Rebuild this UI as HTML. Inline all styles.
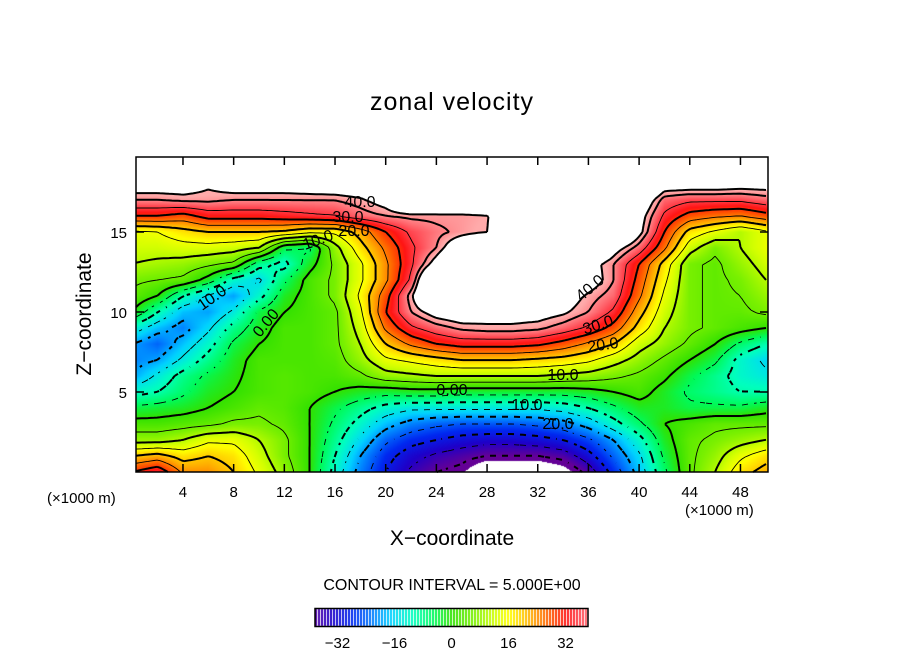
<!DOCTYPE html>
<html><head><meta charset="utf-8"><style>
body{margin:0;background:#fff;width:904px;height:654px;overflow:hidden;position:relative;font-family:"Liberation Sans",sans-serif;}
.t{position:absolute;white-space:nowrap;color:#000;}
</style></head><body>
<div class="t" style="left:0;width:904px;text-align:center;top:88px;font-size:25px;letter-spacing:1px;">zonal velocity</div>
<canvas id="cv" width="904" height="654" style="position:absolute;left:0;top:0"></canvas>
<svg id="sv" width="904" height="654" style="position:absolute;left:0;top:0" font-family="Liberation Sans, sans-serif"></svg>
<div class="t" style="left:0;width:904px;text-align:center;top:527px;font-size:21px;">X−coordinate</div>
<div class="t" style="left:-15px;top:302px;font-size:21px;transform:rotate(-90deg);transform-origin:center;width:200px;text-align:center;">Z−coordinate</div>
<div class="t" style="left:47px;top:490px;font-size:15px;">(×1000 m)</div>
<div class="t" style="left:685px;top:502px;font-size:15px;">(×1000 m)</div>
<div class="t" style="left:0;width:904px;text-align:center;top:577px;font-size:16px;">CONTOUR INTERVAL = 5.000E+00</div>
<script>
const xs=[0,2,4,6,8,10,12,14,16,18,20,22,24,26,28,30,32,34,36,38,40,42,44,46,48,50];
const zs=[20,19,18,17,16,15,14,13,12,11,10,9,8,7,6,5,4,3,2,1,0];
const B=60,L=-50;
const z20=[B,B,B,B,B,B,B,B,B,B,B,B,B,B,B,B,B,B,B,B,B,B,B,B,B,B];
const z19=[B,B,B,B,B,B,B,B,B,B,B,B,B,B,B,B,B,B,B,B,B,B,B,B,B,B];
const z18=[47,47,47,44,47,47,47,48,49,50,B,B,B,B,B,B,B,B,B,B,B,47,47,47,46,46];
const z17=[40,40,41,41,40,40,40,40,40,42,46,B,B,B,B,B,B,B,B,B,50,38,36,36,36,38];
const z16=[30,30,28,32,32,32,33,34,35,38,40,41,41,41,42,B,B,B,B,B,46,34,28,26,25,28];
const z15=[14,15,18,20,20,20,19,16,16,22,30,36,39,41,43,B,B,B,B,B,45,30,18,14,10,14];
const z14=[12,12,13,13,12,10,-4,-6,8,18,26,34,40,50,B,B,B,B,B,46,38,26,12,6,10,14];
const z13=[10,9,8,6,4,-8,-12,-2,6,14,24,34,46,B,B,B,B,B,46,40,30,18,6,4,8,12];
const z12=[6,5,4,-2,-12,-16,-6,2,6,14,24,36,B,B,B,B,B,B,47,40,28,16,6,4,6,10];
const z11=[4,0,-10,-16,-20,-12,-2,2,6,16,28,42,B,B,B,B,B,47,42,38,26,14,6,4,5,8];
const z10=[0,-10,-18,-20,-14,-4,0,2,4,14,30,40,46,48,46,46,46,44,40,34,22,12,6,4,4,6];
const z9=[-12,-18,-22,-16,-8,-2,2,2,4,12,26,34,38,41,42,42,41,38,34,28,18,10,6,4,2,0];
const z8=[-20,-24,-18,-12,-4,0,2,2,4,10,20,26,30,32,32,32,31,28,24,20,12,8,4,0,-6,-10];
const z7=[-22,-20,-14,-8,-2,2,2,2,3,8,14,16,18,20,20,20,19,18,16,12,8,4,0,-4,-12,-16];
const z6=[-20,-14,-8,-4,-1,2,3,2,2,4,8,9,10,10,10,10,10,9,8,6,4,1,-4,-8,-12,-14];
const z5=[-12,-10,-6,-2,0,2,3,2,0,-2,-3,-2,-2,-3,-3,-3,-3,-3,-2,0,2,-2,-6,-8,-10,-10];
const z4=[-4,-3,-2,0,2,4,3,0,-4,-8,-12,-14,-14,-14,-14,-14,-14,-13,-10,-6,-2,-2,-4,-4,-4,-2];
const z3=[2,2,3,4,6,6,4,0,-6,-12,-18,-22,-24,-25,-25,-25,-24,-22,-18,-12,-6,0,2,4,4,4];
const z2=[8,8,10,14,14,10,6,0,-8,-16,-24,-28,-30,-32,-33,-33,-32,-30,-26,-20,-12,-2,4,6,8,10];
const z1=[20,22,18,20,18,12,6,0,-10,-20,-28,-33,-36,-38,-40,-40,-40,-38,-32,-24,-16,-4,4,8,14,18];
const z0=[30,34,24,24,20,14,8,0,-12,-22,-30,-36,-40,-42,L,L,L,-46,-38,-28,-18,-6,4,10,18,22];
const grid=[z20,z19,z18,z17,z16,z15,z14,z13,z12,z11,z10,z9,z8,z7,z6,z5,z4,z3,z2,z1,z0];
const xTicks=[4,8,12,16,20,24,28,32,36,40,44,48];
const zTicks=[5,10,15];
const cbTicks=[-32,-16,0,16,32];
const levels=[-40,-35,-30,-25,-20,-15,-10,-5,0,5,10,15,20,25,30,35,40,43];

const X0=136,X1=768,Y0=157,Y1=472;
const px=x=>132.3+x*12.67, pz=z=>472-z*16;
const ix=p=>(p-132.3)/12.67, iz=p=>(472-p)/16;
function val(x,z){
  let fx=(x-xs[0])/2; fx=Math.max(0,Math.min(xs.length-1.0001,fx));
  let fr=(20-z); fr=Math.max(0,Math.min(zs.length-1.0001,fr));
  const i=Math.floor(fx),j=Math.floor(fr),a=fx-i,b=fr-j;
  return grid[j][i]*(1-a)*(1-b)+grid[j][i+1]*a*(1-b)+grid[j+1][i]*(1-a)*b+grid[j+1][i+1]*a*b;
}
const stops=[[-40,[100,0,150]],[-34,[30,0,200]],[-28,[0,40,240]],[-22,[0,130,255]],[-17,[0,210,255]],[-11,[0,255,190]],[-5,[0,250,90]],[0,[50,225,0]],[6,[120,240,0]],[12,[210,255,0]],[16,[255,255,0]],[22,[255,175,0]],[28,[255,80,0]],[32,[255,20,20]],[36,[255,70,80]],[42,[255,170,170]]];
function col(v){
  if(v<=stops[0][0])return stops[0][1];
  for(let k=1;k<stops.length;k++){if(v<=stops[k][0]){const [a,c1]=stops[k-1],[b,c2]=stops[k];const t=(v-a)/(b-a);return [0,1,2].map(m=>Math.round(c1[m]+(c2[m]-c1[m])*t));}}
  return stops[stops.length-1][1];
}
const cv=document.getElementById('cv'),ctx=cv.getContext('2d');
const W=X1-X0,H=Y1-Y0,img=ctx.createImageData(W,H);
for(let r=0;r<H;r++)for(let c=0;c<W;c++){
  const v=val(ix(X0+c+0.5),iz(Y0+r+0.5));const o=(r*W+c)*4;
  if(v>43||v<-43){img.data[o]=255;img.data[o+1]=255;img.data[o+2]=255;}
  else{const k=col(v);img.data[o]=k[0];img.data[o+1]=k[1];img.data[o+2]=k[2];}
  img.data[o+3]=255;
}
ctx.putImageData(img,X0,Y0);
const CB0=315,CB1=588;
for(let p=CB0;p<CB1;p++){
  if((p-CB0)%3==2)continue;
  const v=-38.3+(p-CB0)/(CB1-CB0)*76.6;const k=col(v);
  ctx.fillStyle=`rgb(${k[0]},${k[1]},${k[2]})`;ctx.fillRect(p,609,1,17);
}
const NS='http://www.w3.org/2000/svg',sv=document.getElementById('sv');
function mk(t,a){const e=document.createElementNS(NS,t);for(const k in a)e.setAttribute(k,a[k]);sv.appendChild(e);return e;}
const S=3,nx=Math.floor(W/S)+1,ny=Math.floor(H/S)+1;const F=[];
for(let r=0;r<ny;r++){F.push([]);for(let c=0;c<nx;c++)F[r].push(val(ix(X0+c*S),iz(Y0+r*S)));}
levels.forEach(lv=>{
  let d='';
  for(let r=0;r<ny-1;r++)for(let c=0;c<nx-1;c++){
    if(lv<0&&(Math.floor(c/2)+Math.floor(r/2))%2==1)continue;
    const v=[F[r][c],F[r][c+1],F[r+1][c+1],F[r+1][c]];
    const P=[[c,r],[c+1,r],[c+1,r+1],[c,r+1]];const pts=[];
    for(let e=0;e<4;e++){const a=v[e],b=v[(e+1)%4];if((a<lv)!==(b<lv)){const t=(lv-a)/(b-a);pts.push([X0+(P[e][0]+(P[(e+1)%4][0]-P[e][0])*t)*S,Y0+(P[e][1]+(P[(e+1)%4][1]-P[e][1])*t)*S]);}}
    for(let q=0;q+1<pts.length;q+=2)d+=`M${pts[q][0].toFixed(1)} ${pts[q][1].toFixed(1)}L${pts[q+1][0].toFixed(1)} ${pts[q+1][1].toFixed(1)}`;
  }
  const el=mk('path',{d,fill:'none',stroke:'#000','stroke-width':(lv%10==0||lv==43)?2:0.9});
  
  
});
[["40.0",360,207,0],["30.0",348,222,0],["20.0",354,236,0],["10.0",318,245,-20],["10.0",212,303,-35],["0.00",266,328,-50],["0.00",452,395,0],["10.0",527,410,0],["20.0",558,429,0],["10.0",563,380,0],["20.0",603,350,-8],["30.0",598,330,-18],["40.0",590,293,-40]].forEach(l=>{
  const t=mk('text',{x:l[1],y:l[2],'font-size':16,'text-anchor':'middle',transform:`rotate(${l[3]} ${l[1]} ${l[2]-5})`});t.textContent=l[0];
  
  
});
const bx=mk('rect',{x:X0,y:Y0,width:W,height:H,fill:'none',stroke:'#000','stroke-width':1.5});


xTicks.forEach(x=>{
  const p=px(x);
  mk('line',{x1:p,x2:p,y1:Y1,y2:Y1-8,stroke:'#000','stroke-width':1.5});
  mk('line',{x1:p,x2:p,y1:Y0,y2:Y0+8,stroke:'#000','stroke-width':1.5});
  const t=mk('text',{x:p,y:497,'font-size':15,'text-anchor':'middle'});t.textContent=x;
  
  
});
zTicks.forEach(z=>{
  const p=pz(z);
  mk('line',{x1:X0,x2:X0+8,y1:p,y2:p,stroke:'#000','stroke-width':1.5});
  mk('line',{x1:X1,x2:X1-8,y1:p,y2:p,stroke:'#000','stroke-width':1.5});
  const t=mk('text',{x:127,y:p+6,'font-size':15,'text-anchor':'end'});t.textContent=z;
  
  
});
const cb=mk('rect',{x:CB0,y:608.5,width:CB1-CB0,height:18,fill:'none',stroke:'#000','stroke-width':1.5});


cbTicks.forEach(v=>{
  const p=CB0+(v+38.3)/76.6*(CB1-CB0);
  const t=mk('text',{x:p,y:648,'font-size':15,'text-anchor':'middle'});t.textContent=(v<0?'−':'')+Math.abs(v);
  
  
});
</script>
</body></html>
